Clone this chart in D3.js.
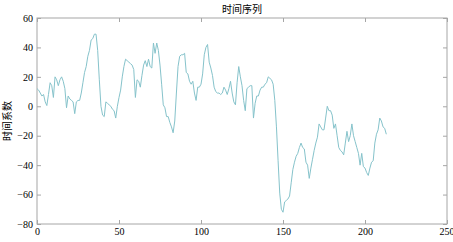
<!DOCTYPE html>
<html>
<head>
<meta charset="utf-8">
<script src="https://cdn.jsdelivr.net/npm/d3@7"></script>
<style>
  body { margin: 0; background: #fff; }
  text { font-family: "Liberation Serif", "Noto Sans CJK SC", serif; }
</style>
</head>
<body>
<script>
// data
const coefValues = [
  12, 11, 9, 7, 8, 3, 0.5, 8, 16, 14, 6, 20, 18, 14, 18, 20, 17, 12, -1, 7,
  5, 4, 3, -5, 3, 4, 4, 9, 16, 23, 27, 34, 38, 45, 46, 49, 49, 38, 18, 0,
  -6, -7, 3, 2, 1, 0, -2, -3, -8, 0, 6, 11, 20, 27, 32, 31, 30, 29, 28, 25,
  6, 18, 17, 13, 21, 28, 31, 27, 32, 27, 26, 43, 36, 43, 38, 28, 15, 1, -1, -7,
  -7, -11, -14, -18, -10, 9, 27, 34, 35, 35, 36, 23, 22, 17, 15, 17, 9, 4, 13, 13,
  15, 22, 35, 40, 42, 30, 26, 21, 13, 10, 9, 9, 8, 9, 13, 11, 8, 12, 17, 9,
  3, 1, 16, 27, 20, 14, 4, -3, 12, 13, 14, 14, -8, 2, 7, 7, 11, 13, 13, 15,
  16, 20, 19, 18, 15, 4, -14, -37, -59, -70, -72, -65, -64, -63, -61, -52, -43, -38, -34, -32,
  -28, -25, -28, -29, -38, -40, -49, -42, -36, -30, -25, -21, -12, -14, -16, -16, -8, 0, -3, -3,
  -6, -15, -12, -20, -28, -30, -31, -33, -25, -17, -24, -20, -12, -20, -24, -28, -32, -40, -32, -41,
  -42, -45, -47, -42, -38, -37, -25, -19, -16, -8, -10, -14, -15, -19
];
const xTicks = [0, 50, 100, 150, 200, 250];
const yTicks = [-80, -60, -40, -20, 0, 20, 40, 60];
const titleText = "时间序列";
const yLabelText = "时间系数";

// layout
const width = 453;
const height = 242;
const margin = { top: 18, right: 6, bottom: 18, left: 37 };
const axisColor = "#a6a6a6";
const lineColor = "#86c3cb";
const tickLen = 4;

const svg = d3
  .select("body")
  .append("svg")
  .attr("width", width)
  .attr("height", height);

const x = d3
  .scaleLinear()
  .domain([0, 250])
  .range([margin.left, width - margin.right]);
const y = d3
  .scaleLinear()
  .domain([-80, 60])
  .range([height - margin.bottom, margin.top]);

// box
svg
  .append("rect")
  .attr("x", x(0))
  .attr("y", y(60))
  .attr("width", x(250) - x(0))
  .attr("height", y(-80) - y(60))
  .attr("fill", "none")
  .attr("stroke", axisColor)
  .attr("stroke-width", 1);

// axes (ticks inward)
const styleAxis = (g) => {
  g.select(".domain").remove();
  g.selectAll(".tick line").attr("stroke", axisColor);
  g.selectAll(".tick text").attr("fill", "#000").style("font-size", "10px");
};

svg
  .append("g")
  .attr("transform", `translate(0,${y(-80)})`)
  .call(d3.axisBottom(x).tickValues(xTicks).tickSizeInner(-tickLen).tickPadding(4))
  .call(styleAxis);

svg
  .append("g")
  .attr("transform", `translate(0,${y(60)})`)
  .call(d3.axisTop(x).tickValues(xTicks).tickSizeInner(-tickLen).tickFormat(""))
  .call(styleAxis);

svg
  .append("g")
  .attr("transform", `translate(${x(0)},0)`)
  .call(d3.axisLeft(y).tickValues(yTicks).tickSizeInner(-tickLen).tickPadding(4))
  .call(styleAxis);

svg
  .append("g")
  .attr("transform", `translate(${x(250)},0)`)
  .call(d3.axisRight(y).tickValues(yTicks).tickSizeInner(-tickLen).tickFormat(""))
  .call(styleAxis);

// keep the last x label inside the window
svg
  .selectAll(".tick text")
  .filter((d) => d === 250)
  .attr("text-anchor", "end")
  .attr("dx", "0.7em");

// line
const line = d3
  .line()
  .x((d, i) => x(i))
  .y((d) => y(d));

svg
  .append("path")
  .datum(coefValues)
  .attr("fill", "none")
  .attr("stroke", lineColor)
  .attr("stroke-width", 1)
  .attr("d", line);

// title and label
svg
  .append("text")
  .attr("x", (x(0) + x(250)) / 2)
  .attr("y", 13)
  .attr("text-anchor", "middle")
  .style("font-family", "'Noto Sans CJK SC', sans-serif")
  .style("font-size", "10px")
  .text(titleText);

svg
  .append("text")
  .attr("transform", `translate(11,${(y(60) + y(-80)) / 2}) rotate(-90)`)
  .attr("text-anchor", "middle")
  .style("font-family", "'Noto Sans CJK SC', sans-serif")
  .style("font-size", "10px")
  .text(yLabelText);
</script>
</body>
</html>
